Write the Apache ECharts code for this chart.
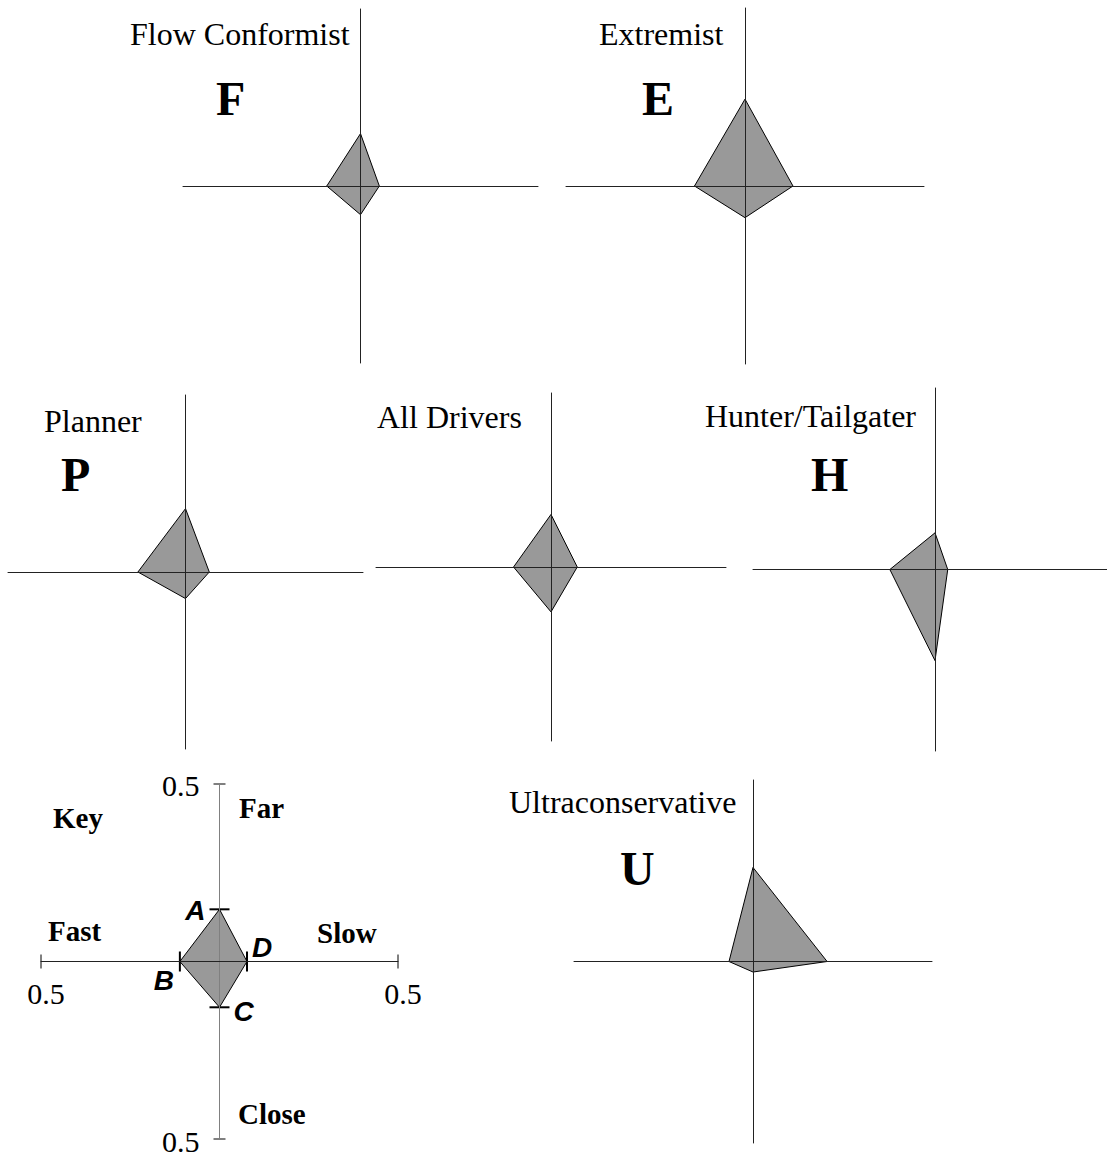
<!DOCTYPE html>
<html>
<head>
<meta charset="utf-8">
<title>Driver profiles</title>
<script src="https://cdn.jsdelivr.net/npm/echarts@6/dist/echarts.min.js"></script>
<style>
  html, body { margin: 0; padding: 0; background: #ffffff; }
  #chart { width: 1107px; height: 1156px; }
</style>
</head>
<body>
<div id="chart"></div>
<script>
// driver profiles, each drawn as a 4-point shape: A = far (up), B = fast (left), C = close (down), D = slow (right)
const profileNames = ['Flow Conformist', 'Extremist', 'Planner', 'All Drivers', 'Hunter/Tailgater', 'Ultraconservative'];
const profileLetters = ['F', 'E', 'P', '', 'H', 'U'];
const farA   = [0.148, 0.244, 0.179, 0.151, 0.101, 0.259];
const fastB  = [0.095, 0.141, 0.134, 0.107, 0.124, 0.067];
const closeC = [0.081, 0.089, 0.075, 0.129, 0.251, 0.029];
const slowD  = [0.053, 0.134, 0.067, 0.075, 0.035, 0.207];

// key panel
const keyValues = [0.147, 0.111, 0.129, 0.077]; // A, B, C, D
const keyPointLabels = ['A', 'B', 'C', 'D'];
const keyAxisNames = ['Far', 'Fast', 'Close', 'Slow'];
const axisMin = -0.5;
const axisMax = 0.5;

// panel boxes in pixels (grid left/top/width/height)
const panelBoxes = [
  [183, 9, 355, 354],
  [566, 8, 358, 356],
  [8, 395, 355, 354],
  [376, 393, 350, 348],
  [753, 388, 364, 363],
  [574, 780, 358, 363]
];
const keyBox = [41, 784, 357, 355];

// title text placement: [left, baseline]
const namePos = [[130, 45], [599, 45], [44, 432], [377, 428], [705, 427], [509, 813]];
const letterPos = [[216, 115], [642, 115], [61, 491], null, [811, 491], [620, 885]];

const SERIF = '"Liberation Serif", "Times New Roman", serif';
const SANS = '"Liberation Sans", Arial, sans-serif';

const grids = [], xAxes = [], yAxes = [], series = [], graphics = [];

function textEl(str, left, baseline, size, bold) {
  return {
    type: 'text',
    x: left,
    y: baseline - 0.335 * size,
    style: {
      text: str,
      font: (bold ? 'bold ' : '') + size + 'px ' + SERIF,
      fill: '#000',
      align: 'left',
      verticalAlign: 'middle'
    }
  };
}

function addPanel(box, isKey) {
  const i = grids.length;
  grids.push({ left: box[0], top: box[1], width: box[2], height: box[3], outerBoundsMode: 'none', containLabel: false });
  const lineColor = '#222';
  xAxes.push({
    gridIndex: i, type: 'value', min: axisMin, max: axisMax, z: 3,
    axisLine: { onZero: true, lineStyle: { color: lineColor, width: 1 } },
    axisTick: { show: false },
    splitLine: { show: false },
    axisLabel: { show: false }
  });
  yAxes.push({
    gridIndex: i, type: 'value', min: axisMin, max: axisMax, z: 3,
    axisLine: { onZero: true, lineStyle: { color: isKey ? '#808080' : lineColor, width: 1 } },
    axisTick: { show: false },
    splitLine: { show: false },
    axisLabel: { show: false }
  });
  return i;
}

function shapePoints(api, a, b, c, d) {
  return [api.coord([0, a]), api.coord([-b, 0]), api.coord([0, -c]), api.coord([d, 0])];
}

profileNames.forEach((name, k) => {
  const i = addPanel(panelBoxes[k], false);
  series.push({
    type: 'custom', xAxisIndex: i, yAxisIndex: i, z: 2, silent: true,
    data: [[farA[k], fastB[k], closeC[k], slowD[k]]],
    renderItem: (params, api) => ({
      type: 'polygon',
      shape: { points: shapePoints(api, api.value(0), api.value(1), api.value(2), api.value(3)) },
      style: { fill: '#999999', stroke: '#000', lineWidth: 1 }
    })
  });
  graphics.push(textEl(name, namePos[k][0], namePos[k][1], 32, false));
  if (profileLetters[k]) {
    graphics.push(textEl(profileLetters[k], letterPos[k][0], letterPos[k][1], 48, true));
  }
});

// key panel
const ki = addPanel(keyBox, true);
series.push({
  type: 'custom', xAxisIndex: ki, yAxisIndex: ki, z: 2, silent: true,
  data: [keyValues],
  renderItem: (params, api) => {
    const pts = shapePoints(api, api.value(0), api.value(1), api.value(2), api.value(3));
    // left, right, top, bottom ends of the axes
    const ends = [api.coord([axisMin, 0]), api.coord([axisMax, 0]), api.coord([0, axisMax]), api.coord([0, axisMin])];
    const endText = Math.abs(axisMax).toFixed(1);
    const kids = [{
      type: 'polygon', shape: { points: pts },
      style: { fill: '#999999', stroke: '#000', lineWidth: 1 }
    }];
    // end ticks and end labels of the axes
    const endOffs = [[5, 32, 'center'], [5, 32, 'center'], [-20, 1, 'right'], [-20, 2, 'right']];
    ends.forEach((p, j) => {
      const horiz = j < 2;
      kids.push({
        type: 'line', z2: 10,
        shape: horiz ? { x1: p[0], y1: p[1] - 7, x2: p[0], y2: p[1] + 7 } : { x1: p[0] - 6, y1: p[1], x2: p[0] + 6, y2: p[1] },
        style: { stroke: '#000', lineWidth: 1 }
      });
      kids.push({
        type: 'text', z2: 10,
        style: {
          text: endText, x: p[0] + endOffs[j][0], y: p[1] + endOffs[j][1],
          font: '30px ' + SERIF, fill: '#000',
          align: endOffs[j][2], verticalAlign: 'middle'
        }
      });
    });
    // value markers at A, B, C, D
    pts.forEach((p, j) => {
      const vertical = j === 0 || j === 2;
      kids.push({
        type: 'line', z2: 10,
        shape: vertical ? { x1: p[0] - 10, y1: p[1], x2: p[0] + 10, y2: p[1] } : { x1: p[0], y1: p[1] - 10, x2: p[0], y2: p[1] + 10 },
        style: { stroke: '#000', lineWidth: 2 }
      });
    });
    const offs = [[-14, 1, 'right'], [-6, 19, 'right'], [14, 4, 'left'], [5, -14, 'left']];
    pts.forEach((p, j) => {
      kids.push({
        type: 'text', z2: 10,
        style: {
          text: keyPointLabels[j], x: p[0] + offs[j][0], y: p[1] + offs[j][1],
          font: 'italic bold 28px ' + SANS, fill: '#000',
          align: offs[j][2], verticalAlign: 'middle'
        }
      });
    });
    return { type: 'group', children: kids };
  }
});

graphics.push(textEl('Key', 53, 828, 29, true));
graphics.push(textEl(keyAxisNames[0], 239, 818, 29, true));
graphics.push(textEl(keyAxisNames[1], 48, 941, 29, true));
graphics.push(textEl(keyAxisNames[2], 238, 1124, 29, true));
graphics.push(textEl(keyAxisNames[3], 317, 943, 29, true));

const chart = echarts.init(document.getElementById('chart'), null, { renderer: 'svg' });
chart.setOption({
  backgroundColor: '#ffffff',
  animation: false,
  grid: grids,
  xAxis: xAxes,
  yAxis: yAxes,
  series: series,
  graphic: { elements: graphics }
});
</script>
</body>
</html>
